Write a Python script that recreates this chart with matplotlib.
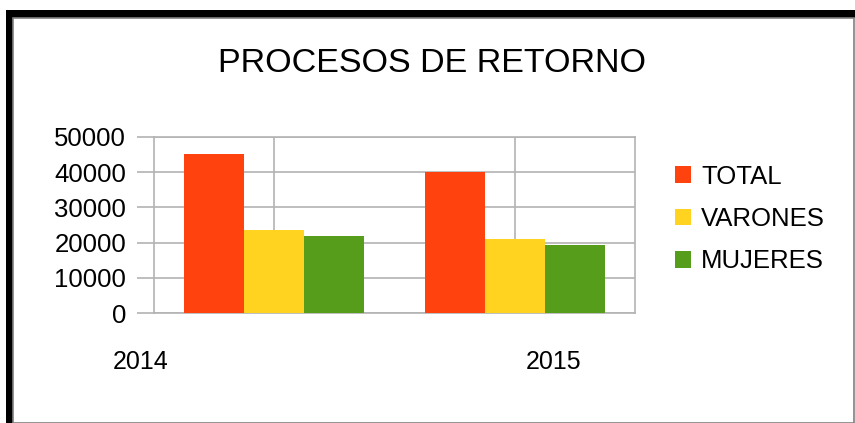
import matplotlib
matplotlib.use("Agg")
import matplotlib.pyplot as plt
from matplotlib.patches import Rectangle
import numpy as np

plt.rcParams['font.family'] = ['Liberation Sans', 'DejaVu Sans']

years = ['2014', '2015']
series = ['TOTAL', 'VARONES', 'MUJERES']
total = [45200, 40100]
varones = [23600, 21000]
mujeres = [21900, 19300]
colors = ['#ff420e', '#ffd320', '#579d1c']
yticks = [0, 10000, 20000, 30000, 40000, 50000]

W, H = 855, 423
fig = plt.figure(figsize=(W / 100, H / 100), dpi=100)

# frame: thick black top/left, thin grey right/bottom
fig.patches.append(Rectangle((6 / W, 0), 7 / W, 1 - 10 / H, transform=fig.transFigure,
                             facecolor='black', edgecolor='none'))
fig.patches.append(Rectangle((6 / W, 1 - 18 / H), 1, 8 / H, transform=fig.transFigure,
                             facecolor='black', edgecolor='none'))
fig.patches.append(Rectangle((13 / W, 0.5 / H), (854 - 13) / W, (405 - 0.5) / H,
                             transform=fig.transFigure, facecolor='none',
                             edgecolor='#808080', linewidth=1.2))

ax = fig.add_axes([154 / W, (H - 313) / H, (635 - 154) / W, (313 - 137) / H])

x = np.arange(len(years)) + 0.5
w = 0.25
for i, (vals, name) in enumerate(zip([total, varones, mujeres], series)):
    ax.bar(x + (i - 1) * w, vals, w, color=colors[i], label=name, zorder=3)

ax.set_xlim(0, 2)
ax.set_ylim(0, 50000)
ax.set_yticks(yticks)
ax.set_yticklabels([str(v) for v in yticks], fontsize=18.5)
ax.set_xticks(x)
ax.set_xticklabels([])
ax.tick_params(axis='x', length=0)
ax.tick_params(axis='y', length=12, color='#b3b3b3', width=1.2, pad=8)
ax.grid(True, color='#b3b3b3', linewidth=1.2, zorder=0)
for s in ax.spines.values():
    s.set_color('#b3b3b3')
    s.set_linewidth(1.2)

# category labels
fig.text(141 / W, 1 - 362 / H, years[0], fontsize=18, ha='center', va='center')
fig.text(554 / W, 1 - 362 / H, years[1], fontsize=18, ha='center', va='center')

fig.text(432 / W, 1 - 64 / H, 'PROCESOS DE RETORNO', fontsize=24.5, ha='center', va='center')

ax.legend(loc='center left', bbox_to_anchor=(675 / W, 1 - 219 / H),
          bbox_transform=fig.transFigure, frameon=False, fontsize=18.5,
          handlelength=0.62, handleheight=0.62, handletextpad=0.39,
          labelspacing=0.72, borderpad=0, borderaxespad=0)

fig.savefig('out.png', dpi=100)
